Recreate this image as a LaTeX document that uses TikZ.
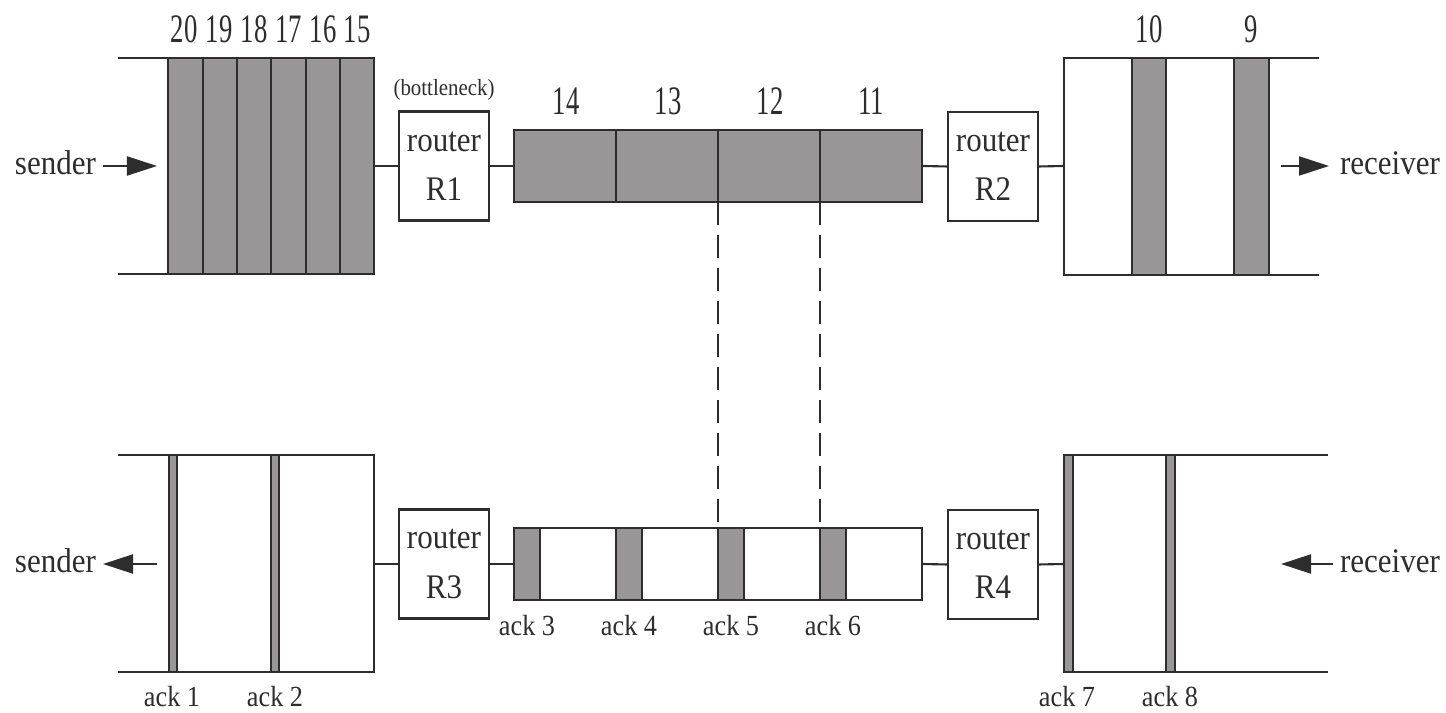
\documentclass[tikz,border=0pt]{standalone}
\usepackage{fontspec}
\setmainfont{Liberation Serif}[FakeStretch=0.9]
\newfontfamily\numfont{Liberation Serif}[FakeStretch=0.66]
\newfontfamily\ackfont{Liberation Serif}[FakeStretch=0.9]
\usetikzlibrary{arrows.meta}
\definecolor{shade}{RGB}{152,150,150}
\definecolor{ink}{RGB}{45,45,45}
\begin{document}
\begin{tikzpicture}[x=0.01cm,y=-0.01cm,line width=0.6pt,
  routerbox/.style={draw=ink,fill=white,rectangle,inner sep=0pt,outer sep=0pt,
    minimum width=0.9cm,minimum height=1.09cm,align=center,
    font=\fontsize{9.8}{14}\selectfont,text=ink},
  pipebox/.style={draw=ink,rectangle,inner sep=0pt,outer sep=0pt,
    minimum width=4.08cm,minimum height=0.72cm},
  link/.style={draw=ink},
  pkt/.style={fill=shade,draw=ink},
  num/.style={font=\numfont\fontsize{11.5}{12}\selectfont,inner sep=0pt,text=ink},
  acklab/.style={font=\ackfont\fontsize{8.3}{9}\selectfont,inner sep=0pt,text=ink},
  endlab/.style={font=\fontsize{9.8}{10}\selectfont,inner sep=0pt,text=ink},
  smalllab/.style={font=\fontsize{6.6}{7}\selectfont,inner sep=0pt,text=ink},
  flow/.style={draw=ink,-{Triangle[length=0.3cm,width=0.19cm]}},
  probe/.style={draw=ink,dash pattern=on 0.23cm off 0.1cm}]
\path[use as bounding box,fill=white] (0,0) rectangle (1446,713);

% ---------------- top row: data path ----------------
\draw[pkt] (168,58) rectangle (374,274);
\foreach \x in {203,237,271,306,340} \draw[link] (\x,58) -- (\x,274);
\draw[link] (118,58) -- (374,58);
\draw[link] (118,274) -- (374,274);
\node[num] (n20) at (184,29) {20};
\node[num] (n19) at (219,29) {19};
\node[num] (n18) at (254,29) {18};
\node[num] (n17) at (288.5,29) {17};
\node[num] (n16) at (323,29) {16};
\node[num] (n15) at (357,29) {15};
\coordinate (qTL) at (374,166);

\node[endlab,anchor=east] (sndT) at (97,163) {sender};
\coordinate (aT1) at (103,166);
\coordinate (aT2) at (157,166);
\draw[flow] (aT1) -- (aT2);

\node[smalllab] (bneck) at (444,90) {(bottleneck)};
\node[routerbox] (R1) at (444,166) {router\\R1};

\node[pipebox,fill=shade] (pipeT) at (718,166) {};
\foreach \x in {616,718,820} \draw[link] (\x,130) -- (\x,202);
\node[num] (n14) at (566,101) {14};
\node[num] (n13) at (668,101) {13};
\node[num] (n12) at (770,101) {12};
\node[num] (n11) at (871,101) {11};

\node[routerbox] (R2) at (993,166.5) {router\\R2};

\draw[link] (1319,58) -- (1064,58) -- (1064,275) -- (1319,275);
\draw[pkt] (1132,58) rectangle (1166,275);
\draw[pkt] (1234,58) rectangle (1269,275);
\node[num] (n10) at (1149,29) {10};
\node[num] (n9) at (1251,29) {9};
\coordinate (qTR) at (1064,166);

\coordinate (aT3) at (1281,166);
\coordinate (aT4) at (1329,166);
\draw[flow] (aT3) -- (aT4);
\node[endlab,anchor=west] (rcvT) at (1339,163) {receiver};

\draw[link] (qTL) -- (R1.west);
\draw[link] (R1.east) -- (pipeT.west);
\draw[link] (pipeT.east) -- (R2.west);
\draw[link] (R2.east) -- (qTR);

% ---------------- bottom row: ack path ----------------
\draw[link] (118,455) -- (374,455) -- (374,672) -- (118,672);
\draw[pkt] (169,455) rectangle (177,672);
\draw[pkt] (271,455) rectangle (279,672);
\node[acklab] (k1) at (172,697) {ack 1};
\node[acklab] (k2) at (275,697) {ack 2};
\coordinate (qBL) at (374,564);

\coordinate (aB1) at (157,564);
\coordinate (aB2) at (103,564);
\draw[flow] (aB1) -- (aB2);
\node[endlab,anchor=east] (sndB) at (97,561) {sender};

\node[routerbox] (R3) at (444,564) {router\\R3};

\node[pipebox,fill=white] (pipeB) at (718,564) {};
\foreach \x in {514,616,718,820} \draw[pkt] (\x,528) rectangle (\x+26,600);
\node[acklab] (k3) at (527,626) {ack 3};
\node[acklab] (k4) at (629,626) {ack 4};
\node[acklab] (k5) at (731,626) {ack 5};
\node[acklab] (k6) at (833,626) {ack 6};

\node[routerbox] (R4) at (993,564.5) {router\\R4};

\draw[link] (1328,455) -- (1064,455) -- (1064,672) -- (1328,672);
\draw[pkt] (1064,455) rectangle (1073,672);
\draw[pkt] (1166,455) rectangle (1175,672);
\node[acklab] (k7) at (1067,697) {ack 7};
\node[acklab] (k8) at (1170,697) {ack 8};
\coordinate (qBR) at (1064,564);

\coordinate (aB3) at (1333,564);
\coordinate (aB4) at (1281,564);
\draw[flow] (aB3) -- (aB4);
\node[endlab,anchor=west] (rcvB) at (1339,561) {receiver};

\draw[link] (qBL) -- (R3.west);
\draw[link] (R3.east) -- (pipeB.west);
\draw[link] (pipeB.east) -- (R4.west);
\draw[link] (R4.east) -- (qBR);

% ---------------- dashed alignment lines ----------------
\coordinate (d1t) at (718,202);
\coordinate (d1b) at (718,528);
\coordinate (d2t) at (820,202);
\coordinate (d2b) at (820,528);
\draw[probe] (d1t) -- (d1b);
\draw[probe] (d2t) -- (d2b);
\end{tikzpicture}
\end{document}
